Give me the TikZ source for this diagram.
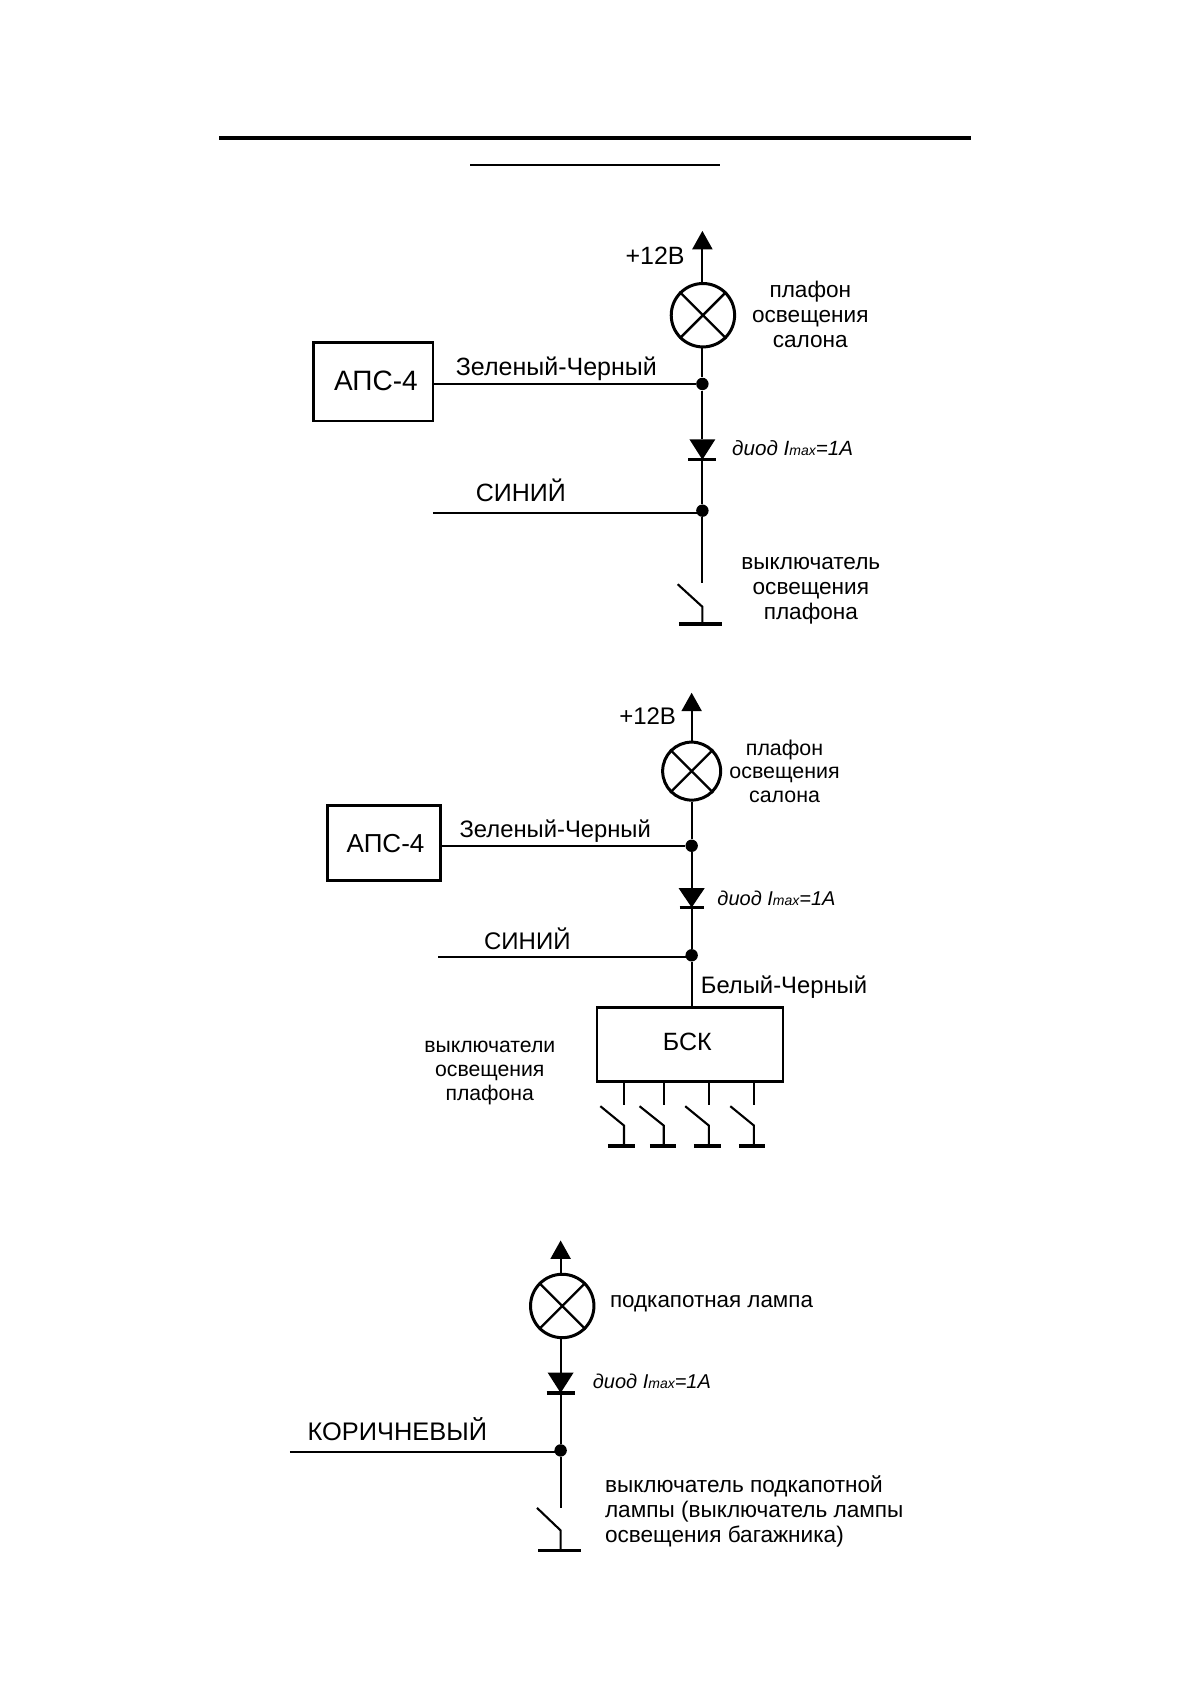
\documentclass[tikz,border=0pt]{standalone}
\usepackage{fontspec}
\setmainfont{Liberation Sans}
\usetikzlibrary{arrows.meta}
\newcommand\fsz[2]{\fontsize{#1}{#2}\selectfont}
\newcommand\diodetext[1]{{\itshape\fsz{#1}{#1}диод I{\fsz{7}{7}max}=1A}}
\tikzset{
  wire/.style={line width=1.05pt},
  thinwire/.style={line width=0.85pt},
  uparrow/.style={line width=1.05pt,-{Triangle[length=9.2pt,width=10pt]}},
  lamp/.style={circle,draw,line width=1.5pt,inner sep=0pt,minimum size=#1},
  crossl/.style={line width=1.2pt},
  dot/.style={circle,fill=black,inner sep=0pt,minimum size=6.2pt},
  blockbox/.style={draw,line width=1.25pt,inner sep=0pt},
  lbl/.style={inner sep=0pt,align=center},
  lblleft/.style={inner sep=0pt,align=left,anchor=west},
  bar/.style={line width=1.6pt},
}
\begin{document}
\begin{tikzpicture}[x=0.537pt,y=-0.537pt]
\useasboundingbox (0,0) rectangle (1108,1568);
% title rules
\coordinate (ta) at (204,128.5); \coordinate (tb) at (904,128.5);
\coordinate (tc) at (438,153.5); \coordinate (td) at (670,153.5);
\draw[line width=1.6pt] (ta) -- (tb);
\draw[line width=0.8pt] (tc) -- (td);

% ---------- circuit 1
\coordinate (a1) at (654,215);
\node[lamp=31.7pt] (l1) at (654.5,293.5) {};
\draw[crossl] (l1.45) -- (l1.225) (l1.135) -- (l1.315);
\node[dot] (j1a) at (654,357.5) {};
\node[dot] (j1b) at (654,475.5) {};
\node[blockbox,minimum width=59.6pt,minimum height=39.2pt] (b1) at (347.5,355.5) {};
\node[lbl,font=\fsz{14}{16}] (t1g) at (350,355) {АПС-4};
\coordinate (d1t) at (654,409); \coordinate (d1b) at (654,428);
\coordinate (w1) at (403,477.5);
\coordinate (s1top) at (654,543);
\coordinate (s1free) at (631,544); \coordinate (s1hinge) at (654,565); \coordinate (s1g) at (654,581);
\coordinate (s1gl) at (632,581); \coordinate (s1gr) at (672,581);
\draw[uparrow] (l1.north -| a1) -- (a1);
\draw[wire] (l1.south -| j1a) -- (j1a);
\draw[wire] (j1a) -- (d1t);
\draw[wire] (d1b) -- (j1b);
\draw[wire] (j1b) -- (s1top);
\draw[wire] (b1.east |- j1a) -- (j1a);
\draw[thinwire] (w1) -- (w1 -| j1b);
\fill ([xshift=-6.5pt]d1t) -- ([xshift=6.5pt]d1t) -- (d1b) -- cycle;
\draw[bar] ([xshift=-7pt]d1b) -- ([xshift=7pt]d1b);
\draw[wire] (s1free) -- (s1hinge) -- (s1g);
\draw[bar] (s1gl) -- (s1gr);
\node[lbl,font=\fsz{12.5}{14}] (t1a) at (610,238) {+12В};
\node[lbl,font=\fsz{11.3}{12.6}] (t1b) at (754.5,292.5) {плафон\\освещения\\салона};
\node[lbl,font=\fsz{12.5}{14}] (t1c) at (518,343) {Зеленый-Черный};
\node[lbl] (t1d) at (738,417.5) {\diodetext{10.3}};
\node[lbl,font=\fsz{12.5}{14}] (t1e) at (485,457) {СИНИЙ};
\node[lbl,font=\fsz{11.3}{12.6}] (t1f) at (755,550) {выключатель\\освещения\\плафона};

% ---------- circuit 2
\coordinate (a2) at (644,645);
\node[lamp=29pt] (l2) at (644,718) {};
\draw[crossl] (l2.45) -- (l2.225) (l2.135) -- (l2.315);
\node[dot] (j2a) at (644,787.5) {};
\node[dot] (j2b) at (644,889.5) {};
\node[blockbox,minimum width=56.4pt,minimum height=37.6pt] (b2) at (357.5,785) {};
\node[lbl,font=\fsz{13}{15}] (t2h) at (359,785) {АПС-4};
\node[blockbox,minimum width=92.9pt,minimum height=37pt] (b3) at (642.5,972.5) {};
\node[lbl,font=\fsz{12.5}{14}] (t2i) at (640,970) {БСК};
\coordinate (d2t) at (644,827); \coordinate (d2b) at (644,845);
\coordinate (w2) at (408,891);
\draw[uparrow] (l2.north) -- (a2);
\draw[wire] (l2.south) -- (j2a);
\draw[wire] (j2a) -- (d2t);
\draw[wire] (d2b) -- (j2b);
\draw[wire] (j2b) -- (j2b |- b3.north);
\draw[wire] (b2.east |- j2a) -- (j2a);
\draw[thinwire] (w2) -- (w2 -| j2b);
\fill ([xshift=-6.5pt]d2t) -- ([xshift=6.5pt]d2t) -- (d2b) -- cycle;
\draw[bar] ([xshift=-6pt]d2b) -- ([xshift=6pt]d2b);
\foreach \xs/\xf/\gl/\gr/\nm in {581/559/566/591/a,618/595.5/605/629/b,660/638/646/671/c,702/680/688/712/d}{
  \coordinate (st\nm) at (\xs,1007);
  \coordinate (se\nm) at (\xs,1029);
  \coordinate (sf\nm) at (\xf,1030);
  \coordinate (sh\nm) at (\xs,1048);
  \coordinate (sg\nm) at (\xs,1067);
  \coordinate (sl\nm) at (\gl,1067);
  \coordinate (sr\nm) at (\gr,1067);
  \draw[wire] (st\nm) -- (se\nm);
  \draw[wire] (sf\nm) -- (sh\nm) -- (sg\nm);
  \draw[bar] (sl\nm) -- (sr\nm);
}
\node[lbl,font=\fsz{12}{14}] (t2a) at (603,667) {+12В};
\node[lbl,font=\fsz{10.7}{11.8}] (t2b) at (730.5,718) {плафон\\освещения\\салона};
\node[lbl,font=\fsz{11.9}{14}] (t2c) at (517,774) {Зеленый-Черный};
\node[lbl] (t2d) at (723,836) {\diodetext{10}};
\node[lbl,font=\fsz{12}{14}] (t2e) at (491,874) {СИНИЙ};
\node[lbl,font=\fsz{11.9}{14}] (t2f) at (730,919) {Белый-Черный};
\node[lbl,font=\fsz{10.6}{11.8}] (t2g) at (456,999) {выключатели\\освещения\\плафона};

% ---------- circuit 3
\coordinate (a3) at (522,1155);
\node[lamp=31.7pt] (l3) at (523.5,1216) {};
\draw[crossl] (l3.45) -- (l3.225) (l3.135) -- (l3.315);
\node[dot] (j3) at (522,1350.5) {};
\coordinate (d3t) at (522,1278); \coordinate (d3b) at (522,1297);
\coordinate (w3) at (270,1352);
\coordinate (s3top) at (522,1404);
\coordinate (s3free) at (500,1404); \coordinate (s3hinge) at (522,1425); \coordinate (s3g) at (522,1444);
\coordinate (s3gl) at (501,1444); \coordinate (s3gr) at (541,1444);
\draw[uparrow] (l3.north -| a3) -- (a3);
\draw[wire] (l3.south -| a3) -- (d3t);
\draw[wire] (d3b) -- (j3);
\draw[wire] (j3) -- (s3top);
\draw[wire] (w3) -- (w3 -| j3);
\fill ([xshift=-6.5pt]d3t) -- ([xshift=6.5pt]d3t) -- (d3b) -- cycle;
\draw[bar] ([xshift=-7pt]d3b) -- ([xshift=7pt]d3b);
\draw[wire] (s3free) -- (s3hinge) -- (s3g);
\draw[bar] (s3gl) -- (s3gr);
\node[lbl,font=\fsz{11.2}{14}] (t3a) at (662.5,1214) {подкапотная лампа};
\node[lbl] (t3b) at (607,1286) {\diodetext{10}};
\node[lbl,font=\fsz{12.7}{14}] (t3c) at (370,1331) {КОРИЧНЕВЫЙ};
\node[lblleft,font=\fsz{11.3}{12.6}] (t3d) at (563,1407.5) {выключатель подкапотной\\лампы (выключатель лампы\\освещения багажника)};
\end{tikzpicture}
\end{document}
